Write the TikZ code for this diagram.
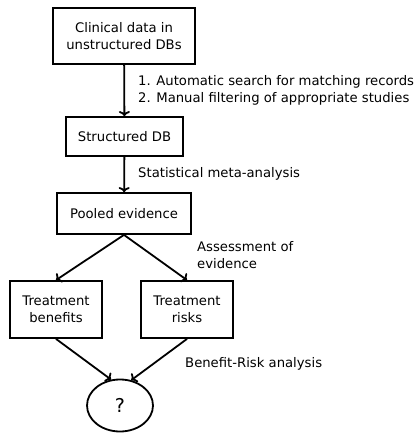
\documentclass[tikz,border=0pt]{standalone}
\usepackage{fontspec}
\setmainfont{DejaVu Sans}
\usetikzlibrary{shapes.geometric,arrows.meta}
\begin{document}
\begin{tikzpicture}[x=1pt,y=-1pt,
  every node/.style={font=\fontsize{13.2}{17}\selectfont, inner sep=0pt},
  stepbox/.style={draw, line width=1.8pt, align=center},
  lbl/.style={anchor=west, align=left},
  flow/.style={-{To[length=5pt,width=11pt]}, line width=1.8pt}]
\useasboundingbox (0,0) rectangle (419,433);
\node[stepbox, minimum width=142pt, minimum height=56pt] (clin) at (124,36) {Clinical data in\\unstructured DBs};
\node[stepbox, minimum width=117pt, minimum height=39pt] (sdb) at (124.5,136.5) {Structured DB};
\node[stepbox, minimum width=134pt, minimum height=41pt] (pool) at (124,213.5) {Pooled evidence};
\node[stepbox, minimum width=92pt, minimum height=57pt] (ben) at (56,309.5) {Treatment\\benefits};
\node[stepbox, minimum width=92pt, minimum height=57pt] (risk) at (187,309.5) {Treatment\\risks};
\node[draw, ellipse, line width=1.8pt, minimum width=66pt, minimum height=52pt,
  font=\fontsize{19}{22}\selectfont] (q) at (120,405.5) {?};

\node[lbl] (l1) at (138,90.5) {1. Automatic search for matching records\\2. Manual filtering of appropriate studies};
\node[lbl] (l2) at (138,174) {Statistical meta-analysis};
\node[lbl] (l3) at (197,255.5) {Assessment of\\evidence};
\node[lbl] (l4) at (185,364) {Benefit-Risk analysis};

\draw[flow] (clin) -- (sdb);
\draw[flow] (sdb) -- (pool);
\draw[flow] (pool.south) -- (ben.north);
\draw[flow] (pool.south) -- (risk.north);
\draw[flow] (ben.south) -- (q.109);
\draw[flow] (risk.south) -- (q.66);
\end{tikzpicture}
\end{document}
